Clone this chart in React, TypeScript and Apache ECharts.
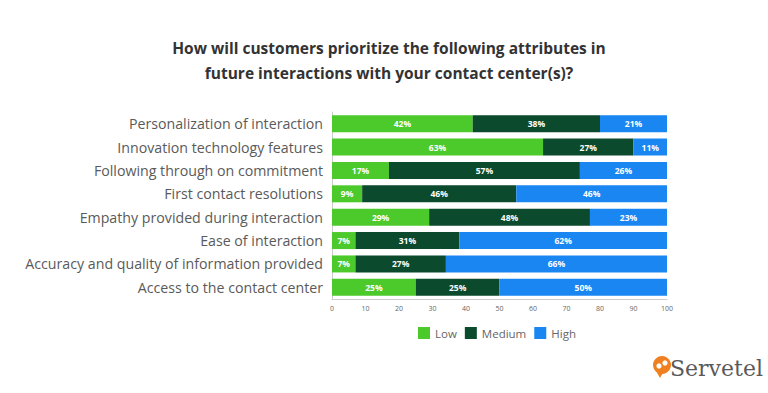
import React, { useEffect, useRef } from "react";
import * as echarts from "echarts";

const categories = [
  "Personalization of interaction",
  "Innovation technology features",
  "Following through on commitment",
  "First contact resolutions",
  "Empathy provided during interaction",
  "Ease of interaction",
  "Accuracy and quality of information provided",
  "Access to the contact center",
];
const lowValues = [42, 63, 17, 9, 29, 7, 7, 25];
const mediumValues = [38, 27, 57, 46, 48, 31, 27, 25];
const highValues = [21, 11, 26, 46, 23, 62, 66, 50];
const seriesNames = ["Low", "Medium", "High"];
const xTicks = [0, 10, 20, 30, 40, 50, 60, 70, 80, 90, 100];

const colors = ["#4cc92b", "#0b4a2c", "#1a86f2"];

export default function App() {
  const ref = useRef<HTMLDivElement>(null);
  useEffect(() => {
    document.body.style.margin = "0";
    const chart = echarts.init(ref.current!, null, { renderer: "svg" });
    const data = [lowValues, mediumValues, highValues];
    chart.setOption({
      animation: false,
      backgroundColor: "#ffffff",
      title: {
        text: "How will customers prioritize the following attributes in\nfuture interactions with your contact center(s)?",
        left: 384,
        top: 30,
        textAlign: "center",
        textStyle: {
          fontFamily: "Open Sans",
          fontWeight: "bold",
          fontSize: 15.5,
          lineHeight: 25,
          color: "#333333",
          align: "center",
        },
      },
      legend: {
        data: seriesNames,
        left: 413,
        top: 322,
        icon: "rect",
        itemWidth: 12,
        itemHeight: 12,
        itemGap: 8,
        textStyle: { fontFamily: "Open Sans", fontSize: 11.5, color: "#666666" },
      },
      grid: { left: 332, right: 101, top: 112, bottom: 94, containLabel: false },
      xAxis: {
        type: "value",
        min: 0,
        max: 100,
        interval: 10,
        axisLine: { show: true, lineStyle: { color: "#cccccc" } },
        axisTick: { show: false },
        splitLine: { show: false },
        axisLabel: {
          fontFamily: "Open Sans",
          fontSize: 7,
          color: "#666666",
          margin: 6,
          formatter: (v: number) => (xTicks.includes(v) ? String(v) : ""),
        },
      },
      yAxis: {
        type: "category",
        data: categories,
        inverse: true,
        axisLine: { show: true, lineStyle: { color: "#cccccc" } },
        axisTick: { show: false },
        axisLabel: {
          fontFamily: "Open Sans",
          fontSize: 14.2,
          color: "#5a5a5a",
          margin: 9,
        },
      },
      series: seriesNames.map((name, i) => ({
        name,
        type: "bar",
        stack: "total",
        barWidth: 17,
        clip: true,
        itemStyle: { color: colors[i] },
        label: {
          show: true,
          position: "inside",
          formatter: (p: any) => p.value + "%",
          color: "#ffffff",
          fontFamily: "Open Sans",
          fontWeight: "bold",
          fontSize: 8.5,
        },
        data: data[i],
      })),
      graphic: [
        {
          type: "circle",
          shape: { cx: 662, cy: 365, r: 9 },
          style: { fill: "#f0801f" },
        },
        {
          type: "polygon",
          shape: { points: [[655, 369], [660, 378], [664, 371]] },
          style: { fill: "#f0801f" },
        },
        {
          type: "circle",
          shape: { cx: 659, cy: 366, r: 2.6 },
          style: { fill: "#ffffff" },
        },
        {
          type: "circle",
          shape: { cx: 665, cy: 363, r: 2.6 },
          style: { fill: "#ffffff" },
        },
        {
          type: "text",
          x: 670,
          y: 357,
          style: {
            text: "Servetel",
            fontFamily: "DejaVu Serif",
            fontSize: 22,
            fill: "#5a5a5a",
          },
        },
      ],
    });
    return () => chart.dispose();
  }, []);
  return <div ref={ref} style={{ width: 768, height: 393 }} />;
}
